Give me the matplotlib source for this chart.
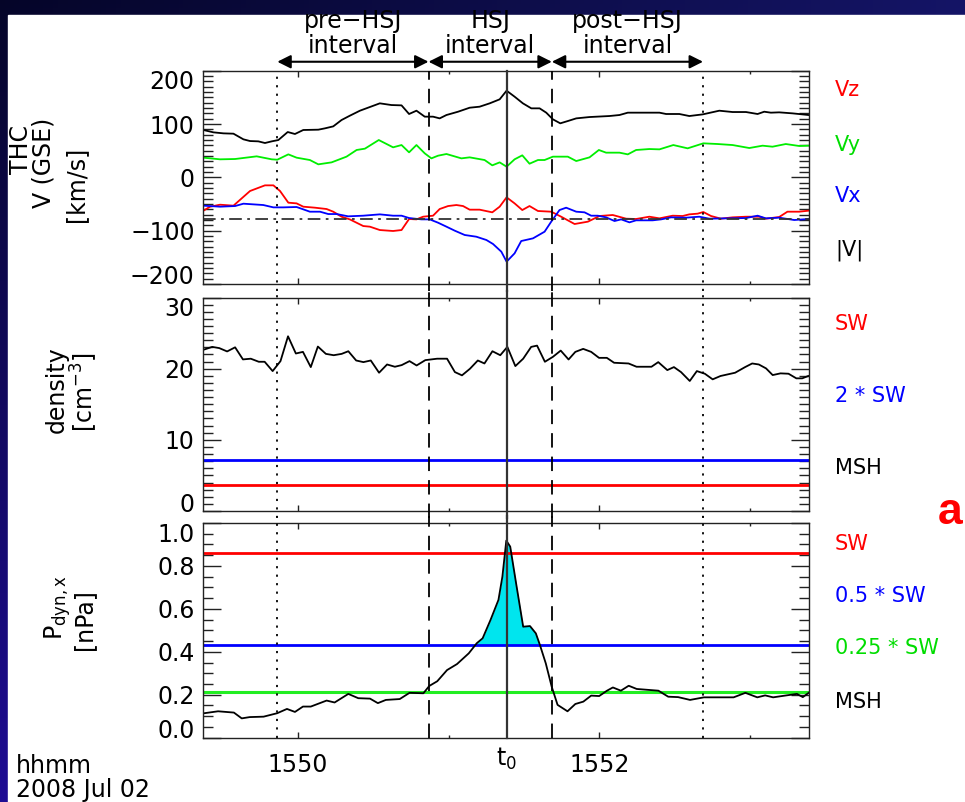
import numpy as np
import matplotlib
matplotlib.use("Agg")
import matplotlib.pyplot as plt
from matplotlib.patches import Rectangle
from matplotlib.transforms import ScaledTranslation
from matplotlib.ticker import MultipleLocator, FixedLocator, FixedFormatter, FormatStrFormatter

# ---------------- data (time in minutes after 15:50 UT, 2008 Jul 02) ----------------
t_vmag = [-0.627,-0.561,-0.494,-0.428,-0.362,-0.318,-0.263,-0.219,-0.174,-0.130,
          -0.068,-0.020,0.035,0.135,0.179,0.234,0.289,0.344,0.411,0.477,
          0.543,0.620,0.687,0.737,0.786,0.841,0.896,0.940,0.985,1.062,
          1.139,1.205,1.272,1.338,1.384,1.437,1.492,1.548,1.603,1.647,
          1.691,1.740,1.790,1.846,1.934,2.066,2.133,2.188,2.287,2.398,
          2.442,2.530,2.596,2.685,2.795,2.883,2.972,3.049,3.093,3.137,
          3.192,3.281,3.387]
v_mag = [88.8,84.4,82.5,81.9,71.3,68.1,67.5,64.4,67.5,70.0,
         85.0,81.3,88.8,89.4,91.9,95.6,107.5,115.6,125.0,131.9,
         138.8,135.6,135.0,118.8,125.0,113.8,113.8,110.6,116.9,123.1,
         130.6,132.5,138.8,146.3,162.5,151.3,138.8,129.4,129.4,121.3,
         108.8,101.3,105.6,110.6,113.1,115.0,116.9,121.3,121.3,121.3,
         118.8,118.8,115.0,118.1,125.0,122.5,122.5,118.8,123.1,121.3,
         121.9,120.0,116.9]

t_vy = [-0.627,-0.517,-0.417,-0.274,-0.174,-0.137,-0.064,-0.009,0.079,0.135,
        0.223,0.322,0.389,0.444,0.536,0.631,0.687,0.737,0.786,0.841,
        0.885,0.929,0.985,1.084,1.139,1.238,1.289,1.338,1.384,1.437,
        1.488,1.536,1.592,1.636,1.691,1.790,1.846,1.934,1.996,2.044,
        2.133,2.188,2.243,2.331,2.398,2.490,2.585,2.689,2.784,2.883,
        2.994,3.082,3.148,3.236,3.325,3.387]
v_y = [36.9,33.8,34.4,39.4,33.8,33.1,43.1,36.9,32.5,24.4,
       28.1,38.8,51.3,53.8,70.0,56.3,60.6,46.9,60.6,45.0,
       35.6,40.6,43.8,35.6,37.5,32.5,22.5,28.1,20.0,33.8,
       41.3,25.6,32.5,32.5,38.8,38.8,30.6,37.5,51.3,46.3,
       46.3,43.1,51.3,53.1,52.5,60.6,54.4,63.8,62.5,60.6,
       55.0,59.4,57.5,62.5,58.8,59.4]

t_vz = [-0.627,-0.583,-0.517,-0.428,-0.318,-0.219,-0.163,-0.119,-0.064,-0.009,
        0.035,0.113,0.190,0.234,0.289,0.344,0.433,0.477,0.543,0.631,
        0.687,0.737,0.786,0.830,0.896,0.940,0.996,1.051,1.095,1.139,
        1.205,1.289,1.338,1.384,1.437,1.488,1.536,1.592,1.680,1.746,
        1.835,1.923,2.000,2.088,2.177,2.243,2.331,2.398,2.486,2.552,
        2.596,2.651,2.689,2.740,2.806,2.883,2.972,3.060,3.104,3.192,
        3.247,3.325,3.387]
v_z = [-62.5,-55.0,-51.3,-53.1,-25.6,-15.0,-15.0,-25.6,-47.5,-48.8,
       -55.0,-56.9,-59.4,-64.4,-73.8,-78.8,-91.3,-92.5,-98.8,-100.6,
       -98.8,-78.1,-78.8,-73.8,-71.9,-59.4,-53.8,-51.9,-53.8,-60.6,
       -60.6,-65.6,-55.0,-37.5,-48.8,-61.3,-53.8,-63.1,-64.4,-73.8,
       -87.5,-83.1,-72.5,-70.6,-77.5,-78.1,-73.8,-76.9,-71.9,-72.5,
       -69.4,-68.1,-65.0,-72.5,-77.5,-75.0,-73.8,-73.8,-77.5,-74.4,
       -64.4,-64.4,-62.5]

t_vx = [-0.627,-0.517,-0.417,-0.362,-0.230,-0.163,-0.097,-0.009,0.035,0.079,
        0.146,0.201,0.256,0.333,0.433,0.543,0.631,0.687,0.737,0.819,
        0.874,0.929,0.985,1.040,1.106,1.183,1.250,1.294,1.349,1.384,
        1.437,1.481,1.559,1.636,1.680,1.735,1.779,1.846,1.901,1.945,
        1.989,2.044,2.100,2.144,2.199,2.243,2.353,2.409,2.475,2.574,
        2.662,2.729,2.839,2.972,3.049,3.104,3.192,3.292,3.387]
v_x = [-53.1,-55.0,-53.8,-49.4,-51.9,-56.3,-56.3,-55.6,-60.0,-64.4,
       -64.4,-68.8,-68.8,-73.1,-71.9,-69.4,-71.9,-71.9,-76.3,-78.8,
       -78.8,-85.0,-92.5,-100.0,-108.1,-111.3,-117.5,-125.0,-139.4,-158.1,
       -142.5,-119.4,-114.4,-101.9,-83.1,-61.3,-56.9,-64.4,-65.6,-71.9,
       -71.9,-75.0,-81.9,-78.8,-84.4,-80.6,-80.6,-78.8,-75.0,-75.6,
       -73.8,-77.5,-76.9,-76.3,-71.9,-76.9,-75.6,-80.0,-78.1]

v_ref = -77.5  # dash-dot reference level

t_dens = [-0.622,-0.569,-0.522,-0.470,-0.417,-0.365,-0.313,-0.260,-0.221,-0.168,
          -0.116,-0.066,-0.014,0.033,0.085,0.132,0.185,0.237,0.290,0.334,
          0.386,0.434,0.483,0.538,0.591,0.643,0.688,0.740,0.787,0.845,
          0.923,0.989,1.041,1.088,1.141,1.193,1.237,1.290,1.342,1.389,
          1.442,1.494,1.547,1.586,1.638,1.691,1.743,1.795,1.840,1.892,
          1.945,1.997,2.049,2.097,2.193,2.246,2.345,2.390,2.450,2.494,
          2.541,2.599,2.646,2.699,2.751,2.803,2.900,2.966,3.013,3.057,
          3.105,3.149,3.201,3.254,3.306,3.345,3.385]
dens = [22.69,23.06,22.89,22.42,23.0,21.3,21.4,20.97,20.97,19.66,
        21.06,24.55,22.13,22.36,20.22,23.11,22.08,21.89,22.08,22.45,
        21.15,20.92,21.15,19.43,20.59,20.27,20.5,21.06,20.45,21.2,
        21.4,21.4,19.52,19.06,19.99,21.15,20.73,22.45,21.89,23.06,
        20.36,21.4,23.06,23.24,20.97,21.66,22.54,21.29,22.36,22.78,
        22.36,21.52,21.52,20.83,20.73,20.27,20.27,20.92,19.8,20.22,
        19.52,18.27,19.66,19.29,18.5,18.97,19.43,20.22,20.73,20.59,
        20.04,19.1,19.34,19.29,18.64,18.64,18.97]
dens_sw = 3.6

t_pdyn = [-0.622,-0.530,-0.425,-0.373,-0.320,-0.228,-0.138,-0.073,-0.020,0.033,
          0.085,0.190,0.243,0.334,0.400,0.478,0.530,0.583,0.675,0.740,
          0.832,0.871,0.924,0.989,1.055,1.133,1.186,1.225,1.277,1.330,
          1.356,1.382,1.408,1.447,1.494,1.539,1.578,1.605,1.644,1.683,
          1.722,1.788,1.840,1.893,1.945,1.998,2.050,2.089,2.142,2.194,
          2.247,2.391,2.456,2.522,2.601,2.693,2.758,2.890,2.968,3.047,
          3.099,3.152,3.230,3.310,3.349,3.388]
pdyn = [0.114,0.123,0.117,0.090,0.096,0.098,0.114,0.134,0.120,0.145,
        0.145,0.173,0.164,0.204,0.184,0.182,0.161,0.176,0.180,0.209,
        0.207,0.241,0.263,0.315,0.343,0.393,0.440,0.463,0.548,0.642,
        0.750,0.918,0.890,0.719,0.517,0.520,0.486,0.432,0.346,0.238,
        0.153,0.123,0.157,0.168,0.196,0.194,0.219,0.234,0.219,0.242,
        0.227,0.219,0.191,0.189,0.176,0.188,0.188,0.188,0.209,0.188,
        0.197,0.188,0.196,0.204,0.189,0.209]
pdyn_sw = 0.86

# interval boundaries
t_pre_start = -0.137
t_hsj_start = 0.866
t_zero = 1.384
t_hsj_end = 1.684
t_post_end = 2.687
interval_names = ["pre\u2212HSJ\ninterval", "HSJ\ninterval", "post\u2212HSJ\ninterval"]

xtick_major = [0, 2]
xtick_labels = ["1550", "1552"]
xtick_minor = [1, 3]
x_range = (-0.63, 3.39)

# ---------------- figure ----------------
W, H = 965, 802
fig = plt.figure(figsize=(W / 100, H / 100), dpi=100)

bg = fig.add_axes([0, 0, 1, 1], zorder=-10)
bg.set_xlim(0, 1); bg.set_ylim(0, 1); bg.axis("off")
tl = np.array([0.02, 0.02, 0.16]); tr = np.array([0.08, 0.08, 0.40])
bl = np.array([0.12, 0.05, 0.58]); br = np.array([0.12, 0.08, 0.55])
u = np.linspace(0, 1, 200)[None, :, None]; v = np.linspace(0, 1, 200)[:, None, None]
img = (1 - u) * (1 - v) * tl + u * (1 - v) * tr + (1 - u) * v * bl + u * v * br
bg.imshow(img, extent=[0, 1, 0, 1], aspect="auto", origin="upper")
bg.add_patch(Rectangle((8 / W, 0), 1, 1 - 15 / H, color="white"))

FONT = ["DejaVu Sans"]
plt.rcParams["font.family"] = FONT
plt.rcParams["mathtext.default"] = "regular"

def px_axes(top, bottom):
    return [203 / W, 1 - bottom / H, 606 / W, (bottom - top) / H]

ax1 = fig.add_axes(px_axes(70.7, 284))
ax2 = fig.add_axes(px_axes(297.5, 511))
ax3 = fig.add_axes(px_axes(523, 737.7))
axes = [ax1, ax2, ax3]

edge = "#222222"
for ax in axes:
    ax.set_xlim(*x_range)
    for s in ax.spines.values():
        s.set_color(edge); s.set_linewidth(1.0)
    ax.xaxis.set_major_locator(FixedLocator(xtick_major))
    ax.xaxis.set_minor_locator(FixedLocator(xtick_minor))
    ax.tick_params(axis="x", which="both", direction="in", top=True, bottom=True,
                   color=edge, labelbottom=False)
    ax.tick_params(axis="x", which="major", length=4.5, width=1)
    ax.tick_params(axis="x", which="minor", length=2.5, width=1)
    ax.tick_params(axis="y", which="both", direction="in", left=True, right=True,
                   color=edge, labelsize=17, pad=6)
    ax.tick_params(axis="y", which="major", length=13, width=1)
    ax.tick_params(axis="y", which="minor", length=7, width=1)

# Panel 1: velocity
ax1.set_ylim(-200, 200)
ax1.yaxis.set_major_locator(MultipleLocator(100))
ax1.yaxis.set_minor_locator(MultipleLocator(10))
ax1.plot(t_vmag, v_mag, color="black", lw=1.3)
ax1.plot(t_vy, v_y, color="#00ee00", lw=1.3)
ax1.plot(t_vz, v_z, color="red", lw=1.3)
ax1.plot(t_vx, v_x, color="blue", lw=1.3)
ax1.axhline(v_ref, color="#333333", lw=1.3, ls=(0, (7, 3, 1.5, 3)))

# Panel 2: density
ax2.set_ylim(0, 30)
ax2.yaxis.set_major_locator(MultipleLocator(10))
ax2.yaxis.set_minor_locator(MultipleLocator(1))
ax2.plot(t_dens, dens, color="black", lw=1.3)
ax2.axhline(2 * dens_sw, color="blue", lw=2)
ax2.axhline(dens_sw, color="red", lw=2)

# Panel 3: dynamic pressure
ax3.set_ylim(0, 1.0)
ax3.yaxis.set_major_locator(MultipleLocator(0.2))
ax3.yaxis.set_minor_locator(MultipleLocator(0.05))
ax3.yaxis.set_major_formatter(FormatStrFormatter("%.1f"))
tp = np.array(t_pdyn); pp = np.array(pdyn)
ax3.fill_between(tp, pp, 0.5 * pdyn_sw, where=pp > 0.5 * pdyn_sw, interpolate=True,
                 color="#00e5ee", lw=0)
ax3.axhline(pdyn_sw, color="red", lw=2)
ax3.axhline(0.5 * pdyn_sw, color="blue", lw=2)
ax3.axhline(0.25 * pdyn_sw, color="#22ee22", lw=2.2)
ax3.plot(tp, pp, color="black", lw=1.3)

# bottom time axis labels
ax3.xaxis.set_major_formatter(FixedFormatter(xtick_labels))
ax3.tick_params(axis="x", which="major", labelbottom=True, labelsize=17, pad=11)
ax3.annotate("t$_0$", xy=(t_zero, 0), xycoords=("data", "axes fraction"),
             xytext=(0, -6), textcoords="offset points", ha="center", va="top",
             fontsize=17)

# IDL-style: end tick labels nudged inward by ~9 px
fig.canvas.draw()
for ax in axes:
    lo, hi = ax.get_ylim()
    for tick, loc in zip(ax.yaxis.get_major_ticks(), ax.yaxis.get_majorticklocs()):
        if np.isclose(loc, lo):
            tick.label1.set_transform(tick.label1.get_transform()
                                      + ScaledTranslation(0, 0.09, fig.dpi_scale_trans))
        elif np.isclose(loc, hi):
            tick.label1.set_transform(tick.label1.get_transform()
                                      + ScaledTranslation(0, -0.09, fig.dpi_scale_trans))

# vertical event lines
styles = [((0, (1.2, 3.5)), 1.3, "black"), ((0, (8, 5)), 1.3, "black"),
          ("-", 1.6, "#333333"), ((0, (8, 5)), 1.3, "black"), ((0, (1.2, 3.5)), 1.3, "black")]
tlines = [t_pre_start, t_hsj_start, t_zero, t_hsj_end, t_post_end]
ext = [(-0.031, 1.0), (-0.031, 1.031), (0.0, 1.031)]
for ax, (lo, hi) in zip(axes, ext):
    for tv, (ls, lw, c) in zip(tlines, styles):
        ax.axvline(tv, ymin=lo, ymax=hi, color=c, ls=ls, lw=lw, clip_on=False, zorder=3)

# interval arrows and titles
bounds = [t_pre_start, t_hsj_start, t_hsj_end, t_post_end]
for i, name in enumerate(interval_names):
    a, b = bounds[i], bounds[i + 1]
    ax1.annotate("", xy=(b, 1.042), xytext=(a, 1.042), xycoords=("data", "axes fraction"),
                 arrowprops=dict(arrowstyle="<|-|>", color="black", lw=1.5,
                                 mutation_scale=20, shrinkA=0, shrinkB=0))
    ax1.text((a + b) / 2, 1.175, name, transform=ax1.get_xaxis_transform(),
             ha="center", va="center", fontsize=17, linespacing=1.05)

# left axis titles
def ftext(x, y, s, **kw):
    fig.text(x / W, 1 - y / H, s, **kw)

lk = dict(rotation=90, ha="center", va="center", fontsize=17)
ftext(21, 150, "THC", **lk)
ftext(44, 163, "V (GSE)", **lk)
ftext(76, 184, "[km/s]", **lk)
ftext(57, 390, "density", **lk)
ftext(84, 392, "[cm$^{-3}$]", **lk)
ftext(58, 608, "P$_{dyn,x}$", **lk)
ftext(84, 620, "[nPa]", **lk)

# right labels
rk = dict(ha="left", va="center", fontsize=15)
ftext(835, 90, "Vz", color="red", **rk)
ftext(835, 145, "Vy", color="#00dd00", **rk)
ftext(835, 196, "Vx", color="blue", **rk)
ftext(835, 250, "|V|", color="black", **rk)
ftext(835, 324, "SW", color="red", **rk)
ftext(835, 396, "2 * SW", color="blue", **rk)
ftext(835, 468, "MSH", color="black", **rk)
ftext(835, 544, "SW", color="red", **rk)
ftext(835, 596, "0.5 * SW", color="blue", **rk)
ftext(835, 648, "0.25 * SW", color="#00dd00", **rk)
ftext(835, 702, "MSH", color="black", **rk)

ftext(950, 513, "a", color="red", fontsize=32, ha="center", va="center",
      family=["Liberation Sans", "DejaVu Sans"], weight="bold")

ftext(16, 766, "hhmm", ha="left", va="center", fontsize=17)
ftext(16, 790, "2008 Jul 02", ha="left", va="center", fontsize=17)

fig.savefig("out.png", dpi=100)
